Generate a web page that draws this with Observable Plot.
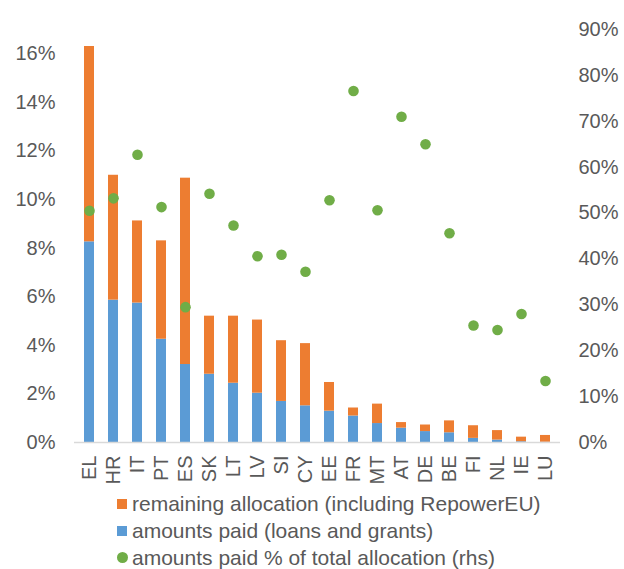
<!DOCTYPE html>
<html>
<head>
<meta charset="utf-8">
<script src="https://cdn.jsdelivr.net/npm/d3@7"></script>
<script src="https://cdn.jsdelivr.net/npm/@observablehq/plot@0.6"></script>
<style>
  html, body { margin: 0; padding: 0; background: #fff; }
  #chart { width: 624px; }
  .legend { font-family: "Liberation Sans", Arial, sans-serif; font-size: 21px; color: #595959; padding-left: 117px; }
  .legend .row { height: 27px; line-height: 27px; white-space: nowrap; display: flex; align-items: center; }
  .legend .sw { width: 10px; height: 10px; margin-right: 5px; flex: none; }
  .legend .dot { border-radius: 50%; width: 11px; height: 11px; margin-right: 4px; }
</style>
</head>
<body>
<div id="chart"></div>
<script>
const countries = ["EL","HR","IT","PT","ES","SK","LT","LV","SI","CY","EE","FR","MT","AT","DE","BE","FI","NL","IE","LU"];
const paid      = [8.26,5.86,5.74,4.25,3.21,2.81,2.44,2.03,1.69,1.51,1.29,1.09,0.78,0.59,0.45,0.40,0.17,0.10,0.03,0.01];
const remaining = [8.04,5.14,3.38,4.05,7.67,2.39,2.76,3.01,2.50,2.56,1.18,0.33,0.80,0.23,0.27,0.49,0.52,0.39,0.19,0.28];
const paidPct   = [50.5,53.2,62.7,51.3,29.5,54.2,47.3,40.6,40.9,37.2,52.8,76.6,50.6,71.0,65.0,45.6,25.5,24.5,28.0,13.4];
const leftTicks  = [0,2,4,6,8,10,12,14,16];
const rightTicks = [0,10,20,30,40,50,60,70,80,90];
const leftMax = 17, rightMax = 90;
const seriesNames = ["remaining allocation (including RepowerEU)","amounts paid (loans and grants)","amounts paid % of total allocation (rhs)"];
const colors = ["#ED7D31","#5B9BD5","#70AD47"];

const k = leftMax / rightMax;
const data = countries.map((c, i) => ({country: c, paid: paid[i], remaining: remaining[i], pct: paidPct[i]}));

const chart = Plot.plot({
  width: 624,
  height: 490,
  marginLeft: 74,
  marginRight: 64,
  marginTop: 29,
  marginBottom: 48,
  style: {fontFamily: "'Liberation Sans', Arial, sans-serif", fontSize: "20px", color: "#595959", background: "#fff"},
  x: {domain: countries, paddingInner: 0.6, paddingOuter: 0.3, axis: null},
  y: {domain: [0, leftMax], axis: null},
  marks: [
    Plot.axisX({tickRotate: -90, tickSize: 0, tickPadding: 13, label: null}),
    Plot.axisY(leftTicks, {anchor: "left", tickSize: 0, tickPadding: 19, tickFormat: d => d + "%", label: null}),
    Plot.axisY(rightTicks.map(t => t * k), {anchor: "right", tickSize: 0, tickPadding: 18, tickFormat: d => Math.round(d / k) + "%", label: null}),
    Plot.barY(data, {x: "country", y1: 0, y2: "paid", fill: colors[1]}),
    Plot.barY(data, {x: "country", y1: "paid", y2: d => d.paid + d.remaining, fill: colors[0]}),
    Plot.ruleY([0], {stroke: "#D9D9D9", strokeWidth: 1.5}),
    Plot.dot(data, {x: "country", y: d => d.pct * k, r: 5.3, fill: colors[2]})
  ]
});
document.getElementById("chart").appendChild(chart);

const legend = document.createElement("div");
legend.className = "legend";
seriesNames.forEach((name, i) => {
  const row = document.createElement("div");
  row.className = "row";
  const sw = document.createElement("span");
  sw.className = "sw" + (i === 2 ? " dot" : "");
  sw.style.background = colors[i];
  const t = document.createElement("span");
  t.textContent = name;
  row.appendChild(sw);
  row.appendChild(t);
  legend.appendChild(row);
});
document.getElementById("chart").appendChild(legend);
</script>
</body>
</html>
